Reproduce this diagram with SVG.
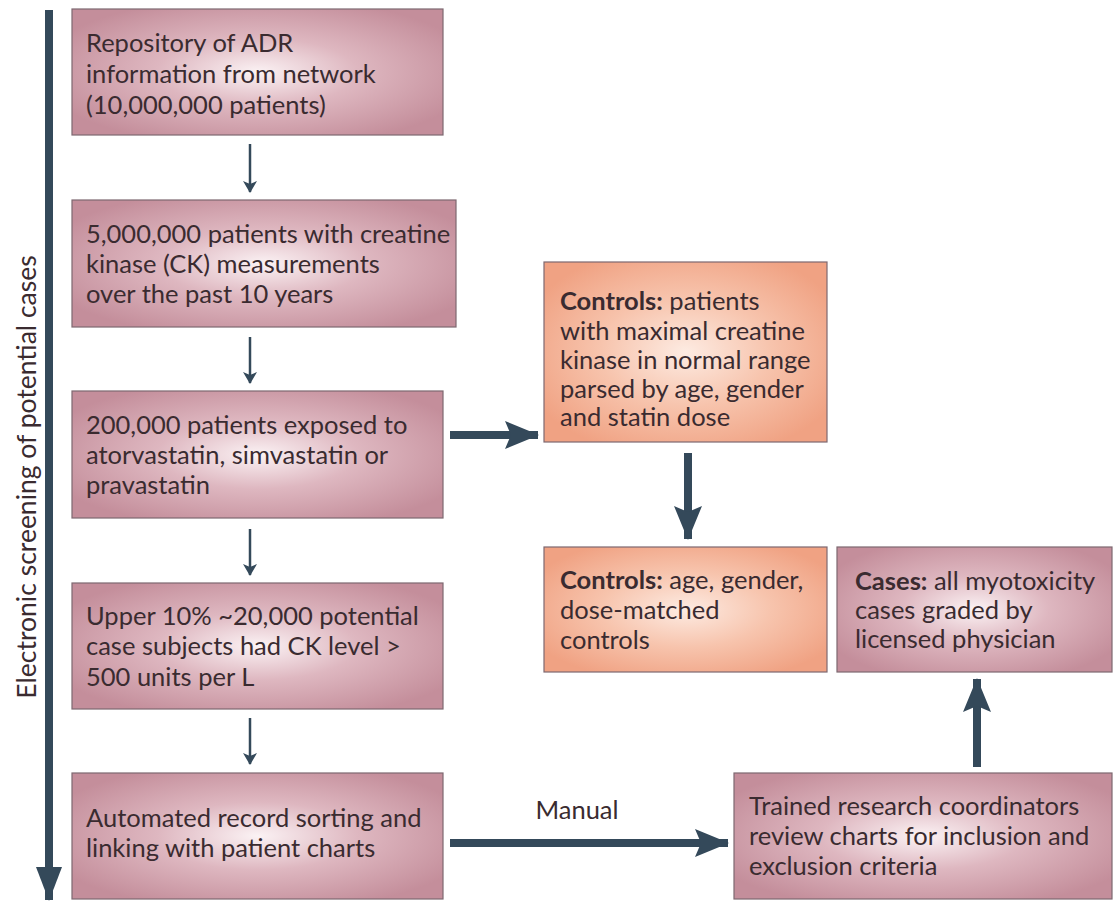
<svg xmlns="http://www.w3.org/2000/svg" width="1113" height="903" viewBox="0 0 1113 903">
<defs>
<radialGradient id="pink" cx="0.5" cy="0.5" r="0.6">
<stop offset="0" stop-color="#fbf2f4"/>
<stop offset="0.45" stop-color="#deb7c0"/>
<stop offset="1" stop-color="#c48e9b"/>
</radialGradient>
<radialGradient id="orange" cx="0.5" cy="0.5" r="0.6">
<stop offset="0" stop-color="#fdebe2"/>
<stop offset="0.5" stop-color="#f7c4ad"/>
<stop offset="1" stop-color="#f0a283"/>
</radialGradient>
<marker id="thin" viewBox="0 0 12 14" refX="11" refY="7" markerWidth="12" markerHeight="14" markerUnits="userSpaceOnUse" orient="auto">
<path d="M0,0 L12,7 L0,14 L3,7 Z" fill="#34495a"/>
</marker>
<marker id="thick" viewBox="0 0 34 28" refX="33" refY="14" markerWidth="34" markerHeight="28" markerUnits="userSpaceOnUse" orient="auto">
<path d="M0,0 L34,14 L0,28 L6,14 Z" fill="#34495a"/>
</marker>
<marker id="side" viewBox="0 0 34 26" refX="33" refY="13" markerWidth="34" markerHeight="26" markerUnits="userSpaceOnUse" orient="auto">
<path d="M0,0 L34,13 L0,26 Z" fill="#34495a"/>
</marker>
</defs>
<style>
.box{stroke:#7d6870;stroke-width:1.2}
.p{fill:url(#pink)}
.o{fill:url(#orange)}
text{font-family:Lato,"Open Sans","Liberation Sans",sans-serif;font-size:25.5px;fill:#3a2b30}
.b{font-weight:bold}
.thin{stroke:#34495a;stroke-width:2.5;fill:none;marker-end:url(#thin)}
.thick{stroke:#34495a;stroke-width:8;fill:none;marker-end:url(#thick)}
</style>
<rect width="1113" height="903" fill="#ffffff"/>
<g id="connectors">
<line x1="49" y1="10" x2="49" y2="900" stroke="#34495a" stroke-width="8" marker-end="url(#side)"/>
<line class="thin" x1="250" y1="144" x2="250" y2="192"/>
<line class="thin" x1="250" y1="337" x2="250" y2="383"/>
<line class="thin" x1="250" y1="529" x2="250" y2="575"/>
<line class="thin" x1="250" y1="718" x2="250" y2="764"/>
<line class="thick" x1="450" y1="435" x2="538" y2="435"/>
<line class="thick" x1="688" y1="453" x2="688" y2="539"/>
<line class="thick" x1="450" y1="843" x2="728" y2="843"/>
<line class="thick" x1="977" y1="767" x2="977" y2="679"/>
<text x="577" y="819" text-anchor="middle">Manual</text>
</g>
<g id="label">
<text transform="translate(36,477) rotate(-90)" text-anchor="middle" style="font-size:26.5px">Electronic screening of potential cases</text>
</g>
<g id="n1">
<rect class="box p" x="72" y="9" width="371" height="126"/>
<text x="86" y="52">Repository of ADR</text>
<text x="86" y="83">information from network</text>
<text x="86" y="114">(10,000,000 patients)</text>
</g>
<g id="n2">
<rect class="box p" x="72" y="200" width="384" height="127"/>
<text x="86" y="243">5,000,000 patients with creatine</text>
<text x="86" y="273">kinase (CK) measurements</text>
<text x="86" y="303">over the past 10 years</text>
</g>
<g id="n3">
<rect class="box p" x="72" y="391" width="371" height="127"/>
<text x="86" y="434">200,000 patients exposed to</text>
<text x="86" y="464">atorvastatin, simvastatin or</text>
<text x="86" y="494">pravastatin</text>
</g>
<g id="n4">
<rect class="box p" x="72" y="583" width="371" height="126"/>
<text x="86" y="625">Upper 10% ~20,000 potential</text>
<text x="86" y="655">case subjects had CK level &gt;</text>
<text x="86" y="686">500 units per L</text>
</g>
<g id="n5">
<rect class="box p" x="72" y="773" width="371" height="126"/>
<text x="86" y="827">Automated record sorting and</text>
<text x="86" y="857">linking with patient charts</text>
</g>
<g id="c1">
<rect class="box o" x="544" y="262" width="283" height="180"/>
<text x="560" y="310"><tspan class="b">Controls:</tspan> patients</text>
<text x="560" y="340">with maximal creatine</text>
<text x="560" y="369">kinase in normal range</text>
<text x="560" y="398">parsed by age, gender</text>
<text x="560" y="426">and statin dose</text>
</g>
<g id="c2">
<rect class="box o" x="544" y="547" width="283" height="125"/>
<text x="560" y="589"><tspan class="b">Controls:</tspan> age, gender,</text>
<text x="560" y="619">dose-matched</text>
<text x="560" y="649">controls</text>
</g>
<g id="cases">
<rect class="box p" x="837" y="547" width="275" height="125"/>
<text x="855" y="590"><tspan class="b">Cases:</tspan> all myotoxicity</text>
<text x="855" y="619">cases graded by</text>
<text x="855" y="648">licensed physician</text>
</g>
<g id="trained">
<rect class="box p" x="734" y="773" width="378" height="126"/>
<text x="749" y="815">Trained research coordinators</text>
<text x="749" y="845">review charts for inclusion and</text>
<text x="749" y="875">exclusion criteria</text>
</g>
</svg>
